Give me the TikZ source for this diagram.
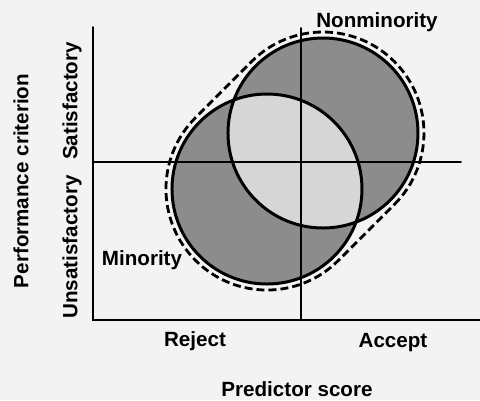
\documentclass[tikz,border=0pt]{standalone}
\usepackage{fontspec}
\setmainfont{Liberation Sans}
\usepackage{tkz-euclide}
\definecolor{paper}{HTML}{F3F3F3}
\definecolor{darkshade}{HTML}{8C8C8C}
\definecolor{lightshade}{HTML}{D6D6D6}

\begin{document}
\begin{tikzpicture}[scale=0.17573,
    lbl/.style={font=\fontsize{10.3}{12}\selectfont\bfseries},
    hull/.style={draw=black,line width=1.4pt,dash pattern=on 4pt off 2pt}]
            \fill[paper] (0,0) rectangle (48,40);
            \useasboundingbox (0,0) rectangle (48,40);
            % axes
            \tkzDefPoint(9.3,8){O}
            \tkzDefPoint(9.3,37.3){T}
            \tkzDefPoint(48,8){R}
            \tkzDefPoint(9.3,23.8){L}
            \tkzDefPoint(46.1,23.8){E}
            \tkzDefPoint(30.1,8){S}
            \tkzDefPoint(30.1,37.2){N}
            % minority and nonminority
            \tkzDefPoint(26.7,21.1){M}
            \tkzDefPoint(17.2,21.1){m}
            \tkzDefPoint(32.3,26.7){P}
            \tkzDefPoint(41.8,26.7){p}
            \tkzDefShiftPoint[P](-45:10.1){P1}
            \tkzDefShiftPoint[M](135:10.1){M2}
            \tkzFillCircle[fill=darkshade](M,m)
            \tkzFillCircle[fill=darkshade](P,p)
            \begin{scope}
              \tkzClipCircle(M,m)
              \tkzFillCircle[fill=lightshade](P,p)
            \end{scope}
            \tkzDrawPolySeg[color=black,line width=1pt](T,O,R)
            \tkzDrawSegments[color=black,line width=1pt](L,E S,N)
            \tkzDrawCircles[color=black,line width=1.5pt](M,m P,p)
            \draw[hull] (P1) arc[start angle=-45,end angle=135,radius=10.1]
              -- (M2) arc[start angle=135,end angle=315,radius=10.1] -- cycle;
            % labels
            \node[lbl] (nonmin) at (37.7,37.8) {Nonminority};
            \node[lbl] (min) at (14.2,14.0) {Minority};
            \node[lbl] (reject) at (19.5,5.9) {Reject};
            \node[lbl] (accept) at (39.3,5.7) {Accept};
            \node[lbl] (pred) at (29.7,1.1) {Predictor score};
            \node[lbl,rotate=90] (perf) at (2.1,21.9) {Performance criterion};
            \node[lbl,rotate=90] (sat) at (7.2,29.9) {Satisfactory};
            \node[lbl,rotate=90] (unsat) at (7.2,15.3) {Unsatisfactory};
        \end{tikzpicture}
\end{document}
